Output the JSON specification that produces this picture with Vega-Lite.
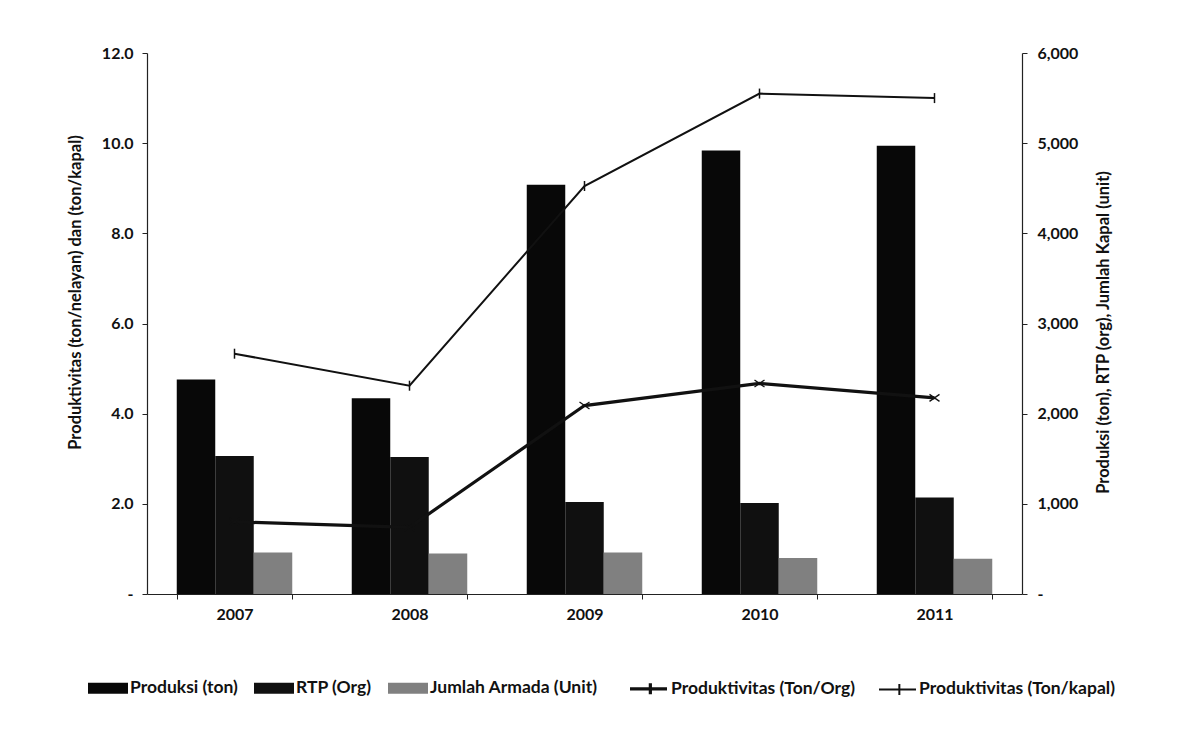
{
  "$schema": "https://vega.github.io/schema/vega-lite/v6.json",
  "width": 875,
  "height": 541,
  "autosize": "none",
  "padding": {"left": 147, "top": 53, "right": 170, "bottom": 140},
  "background": "white",
  "config": {
    "font": "Lato",
    "view": {"stroke": null},
    "axis": {"labelFont": "Lato", "titleFont": "Lato", "labelFontWeight": "bold", "titleFontWeight": "bold", "labelColor": "#111", "titleColor": "#111", "domainColor": "#222", "tickColor": "#222", "grid": false},
    "legend": {"labelFont": "Lato", "labelFontWeight": "bold", "labelFontSize": 17.5, "labelColor": "#111", "labelLimit": 0}
  },
  "datasets": {
    "bars": [
      {"tahun": "2007", "seri": "Produksi (ton)", "nilai": 2380},
      {"tahun": "2007", "seri": "RTP (Org)", "nilai": 1530},
      {"tahun": "2007", "seri": "Jumlah Armada (Unit)", "nilai": 460},
      {"tahun": "2008", "seri": "Produksi (ton)", "nilai": 2170},
      {"tahun": "2008", "seri": "RTP (Org)", "nilai": 1520},
      {"tahun": "2008", "seri": "Jumlah Armada (Unit)", "nilai": 450},
      {"tahun": "2009", "seri": "Produksi (ton)", "nilai": 4540},
      {"tahun": "2009", "seri": "RTP (Org)", "nilai": 1020},
      {"tahun": "2009", "seri": "Jumlah Armada (Unit)", "nilai": 460},
      {"tahun": "2010", "seri": "Produksi (ton)", "nilai": 4920},
      {"tahun": "2010", "seri": "RTP (Org)", "nilai": 1010},
      {"tahun": "2010", "seri": "Jumlah Armada (Unit)", "nilai": 400},
      {"tahun": "2011", "seri": "Produksi (ton)", "nilai": 4970},
      {"tahun": "2011", "seri": "RTP (Org)", "nilai": 1070},
      {"tahun": "2011", "seri": "Jumlah Armada (Unit)", "nilai": 390}
    ],
    "lines": [
      {"tahun": "2007", "seri": "Produktivitas (Ton/Org)", "nilai": 1.6},
      {"tahun": "2008", "seri": "Produktivitas (Ton/Org)", "nilai": 1.48},
      {"tahun": "2009", "seri": "Produktivitas (Ton/Org)", "nilai": 4.18},
      {"tahun": "2010", "seri": "Produktivitas (Ton/Org)", "nilai": 4.67},
      {"tahun": "2011", "seri": "Produktivitas (Ton/Org)", "nilai": 4.35},
      {"tahun": "2007", "seri": "Produktivitas (Ton/kapal)", "nilai": 5.33},
      {"tahun": "2008", "seri": "Produktivitas (Ton/kapal)", "nilai": 4.62},
      {"tahun": "2009", "seri": "Produktivitas (Ton/kapal)", "nilai": 9.05},
      {"tahun": "2010", "seri": "Produktivitas (Ton/kapal)", "nilai": 11.1},
      {"tahun": "2011", "seri": "Produktivitas (Ton/kapal)", "nilai": 11.0}
    ]
  },
  "encoding": {
    "x": {
      "field": "tahun", "type": "nominal",
      "scale": {"paddingInner": 0.34, "paddingOuter": 0.17},
      "axis": {"title": null, "labelAngle": 0, "labelFontSize": 16, "labelPadding": 7, "tickBand": "extent", "tickSize": 5, "domainWidth": 1.2}
    }
  },
  "layer": [
    {
      "data": {"name": "bars"},
      "mark": {"type": "bar"},
      "encoding": {
        "xOffset": {"field": "seri", "type": "nominal", "scale": {"domain": ["Produksi (ton)", "RTP (Org)", "Jumlah Armada (Unit)"]}},
        "y": {
          "field": "nilai", "type": "quantitative",
          "scale": {"domain": [0, 6000]},
          "axis": {"orient": "right", "values": [0, 1000, 2000, 3000, 4000, 5000, 6000], "labelExpr": "datum.value == 0 ? '-' : format(datum.value, ',')", "labelFontSize": 16, "tickSize": 5, "labelPadding": 10, "title": "Produksi (ton), RTP (org), Jumlah Kapal (unit)", "titleFontSize": 16.5, "titleAngle": 270, "titlePadding": 34, "titleY": 279, "domainWidth": 1.2}
        },
        "fill": {
          "field": "seri", "type": "nominal",
          "scale": {"domain": ["Produksi (ton)", "RTP (Org)", "Jumlah Armada (Unit)"], "range": ["#080808", "#101010", "#808080"]},
          "legend": {"title": null, "orient": "none", "legendX": -59, "legendY": 615, "direction": "horizontal", "symbolType": "M-1,-0.28H1V0.28H-1Z", "symbolSize": 1600, "symbolStrokeWidth": 0, "columnPadding": 16, "labelOffset": 2}
        }
      }
    },
    {
      "data": {"name": "lines"},
      "mark": {"type": "line", "color": "#111"},
      "encoding": {
        "y": {
          "field": "nilai", "type": "quantitative",
          "scale": {"domain": [0, 12]},
          "axis": {"orient": "left", "values": [0, 2, 4, 6, 8, 10, 12], "labelExpr": "datum.value == 0 ? '-' : format(datum.value, '.1f')", "labelFontSize": 16, "tickSize": 5, "labelPadding": 9, "title": "Produktivitas (ton/nelayan) dan (ton/kapal)", "titleFontSize": 16.5, "titlePadding": 18, "titleY": 239, "domainWidth": 1.2}
        },
        "stroke": {
          "field": "seri", "type": "nominal",
          "scale": {"domain": ["Produktivitas (Ton/Org)", "Produktivitas (Ton/kapal)"], "range": ["#111", "#111"]},
          "legend": {"title": null, "orient": "none", "legendX": 481, "legendY": 615, "direction": "horizontal", "symbolType": "M-1,0H1M0.1,-0.3V0.3", "symbolSize": 1369, "symbolStrokeWidth": 2.2, "columnPadding": 20, "labelOffset": 2}
        },
        "strokeWidth": {
          "field": "seri", "type": "nominal",
          "scale": {"domain": ["Produktivitas (Ton/Org)", "Produktivitas (Ton/kapal)"], "range": [3.2, 2]},
          "legend": null
        }
      }
    },
    {
      "data": {"name": "lines"},
      "transform": [{"filter": {"field": "seri", "equal": "Produktivitas (Ton/Org)"}}],
      "mark": {"type": "point", "filled": false, "color": "#111", "strokeWidth": 1.3, "size": 100, "opacity": 1, "shape": "M-1,-0.7L1,0.7M-1,0.7L1,-0.7"},
      "encoding": {
        "y": {"field": "nilai", "type": "quantitative", "scale": {"domain": [0, 12]}, "axis": null}
      }
    },
    {
      "data": {"name": "lines"},
      "transform": [{"filter": {"field": "seri", "equal": "Produktivitas (Ton/kapal)"}}],
      "mark": {"type": "point", "filled": false, "color": "#111", "strokeWidth": 1.5, "size": 100, "opacity": 1, "shape": "M0,-1V1"},
      "encoding": {
        "y": {"field": "nilai", "type": "quantitative", "scale": {"domain": [0, 12]}, "axis": null}
      }
    }
  ],
  "resolve": {"scale": {"y": "independent"}}
}
